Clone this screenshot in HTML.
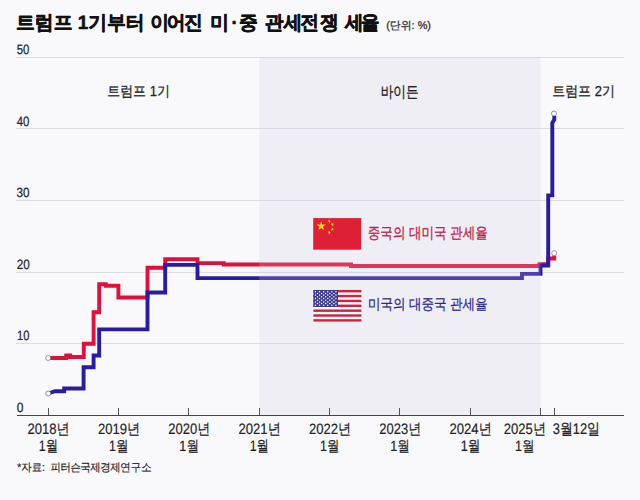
<!DOCTYPE html>
<html><head><meta charset="utf-8"><style>
html,body{margin:0;padding:0;background:#f9f9fc;}
svg{display:block;font-family:"Liberation Sans",sans-serif;text-rendering:geometricPrecision;}
</style></head><body>
<svg width="640" height="500" viewBox="0 0 640 500">
<rect width="640" height="500" fill="#f9f9fc"/>
<line x1="16" x2="624" y1="343.50" y2="343.50" stroke="#dcdce0" stroke-width="1"/>
<line x1="16" x2="624" y1="272.50" y2="272.50" stroke="#dcdce0" stroke-width="1"/>
<line x1="16" x2="624" y1="200.50" y2="200.50" stroke="#dcdce0" stroke-width="1"/>
<line x1="16" x2="624" y1="128.50" y2="128.50" stroke="#dcdce0" stroke-width="1"/>
<line x1="16" x2="624" y1="57.50" y2="57.50" stroke="#dcdce0" stroke-width="1"/>

<path d="M48.2,358.0 H66.2 V355.4 H70.2 V357.0 H83.8 V343.7 H93.6 V312.2 H99.2 V284.2 H105.8 V285.7 H118.4 V297.5 H147.5 V267.8 H165.2 V259.2 H197.5 V263.1 H223.7 V264.5 H351.0 V266.0 H539.5 V264.2 H548.2 V258.5 H554.2 V255.5" fill="none" stroke="#e0103c" stroke-width="3.9" stroke-linejoin="miter"/>
<path d="M48.2,393.5 L55.0,391.2 H64.2 V388.5 H83.6 V367.3 H93.6 V355.5 H99.2 V329.4 H147.5 V292.5 H165.2 V264.9 H197.5 V278.1 H522.0 V273.9 H540.5 V265.6 H548.2 V195.4 H552.3 V123.1 L554.3,119.5 V116" fill="none" stroke="#2a1ca0" stroke-width="3.9" stroke-linejoin="miter"/>
<rect x="259.19" y="57.2" width="281.32" height="358.10" fill="#c8c8da" fill-opacity="0.22"/>
<circle cx="48.2" cy="358.0" r="2.5" fill="#fff" stroke="#666" stroke-width="0.7"/>
<circle cx="48.2" cy="393.5" r="2.5" fill="#fff" stroke="#666" stroke-width="0.7"/>
<circle cx="554.2" cy="253.2" r="2.5" fill="#fff" stroke="#777" stroke-width="0.7"/>
<circle cx="554" cy="113.5" r="2.5" fill="#fff" stroke="#666" stroke-width="0.7"/>
<line x1="17" x2="624" y1="415.5" y2="415.5" stroke="#444" stroke-width="1"/>
<line x1="48.50" x2="48.50" y1="408" y2="415" stroke="#555" stroke-width="1"/>
<line x1="118.50" x2="118.50" y1="408" y2="415" stroke="#555" stroke-width="1"/>
<line x1="188.50" x2="188.50" y1="408" y2="415" stroke="#555" stroke-width="1"/>
<line x1="259.50" x2="259.50" y1="408" y2="415" stroke="#555" stroke-width="1"/>
<line x1="329.50" x2="329.50" y1="408" y2="415" stroke="#555" stroke-width="1"/>
<line x1="399.50" x2="399.50" y1="408" y2="415" stroke="#555" stroke-width="1"/>
<line x1="470.50" x2="470.50" y1="408" y2="415" stroke="#555" stroke-width="1"/>
<line x1="540.50" x2="540.50" y1="408" y2="415" stroke="#555" stroke-width="1"/>
<line x1="554.50" x2="554.50" y1="408" y2="415" stroke="#555" stroke-width="1"/>

<rect x="313.2" y="218.1" width="48" height="31.6" fill="#de1f36"/>
<polygon points="321.20,221.30 322.28,224.62 325.77,224.62 322.94,226.67 324.02,229.98 321.20,227.93 318.38,229.98 319.46,226.67 316.63,224.62 320.12,224.62" fill="#ffde00"/><polygon points="327.57,222.28 328.48,221.24 327.77,220.05 329.04,220.59 329.94,219.55 329.82,220.93 331.09,221.47 329.75,221.78 329.63,223.15 328.92,221.97" fill="#ffde00"/><polygon points="330.52,224.77 331.76,224.16 331.56,222.79 332.52,223.78 333.76,223.18 333.12,224.40 334.08,225.39 332.72,225.15 332.07,226.37 331.88,225.01" fill="#ffde00"/><polygon points="330.57,228.78 331.95,228.73 332.33,227.40 332.81,228.70 334.18,228.65 333.10,229.50 333.57,230.80 332.43,230.03 331.34,230.88 331.72,229.55" fill="#ffde00"/><polygon points="327.72,231.31 329.01,231.80 329.87,230.72 329.81,232.10 331.10,232.59 329.77,232.95 329.70,234.33 328.94,233.18 327.61,233.54 328.47,232.47" fill="#ffde00"/>
<rect x="313.4" y="290" width="48" height="31.6" fill="#fff"/>
<rect x="313.4" y="290.00" width="48" height="2.43" fill="#d0213f"/><rect x="313.4" y="294.86" width="48" height="2.43" fill="#d0213f"/><rect x="313.4" y="299.72" width="48" height="2.43" fill="#d0213f"/><rect x="313.4" y="304.58" width="48" height="2.43" fill="#d0213f"/><rect x="313.4" y="309.45" width="48" height="2.43" fill="#d0213f"/><rect x="313.4" y="314.31" width="48" height="2.43" fill="#d0213f"/><rect x="313.4" y="319.17" width="48" height="2.43" fill="#d0213f"/>
<rect x="313.4" y="290" width="24.6" height="17" fill="#3c3b8e"/>
<circle cx="315.45" cy="291.70" r="0.75" fill="#fff"/><circle cx="319.55" cy="291.70" r="0.75" fill="#fff"/><circle cx="323.65" cy="291.70" r="0.75" fill="#fff"/><circle cx="327.75" cy="291.70" r="0.75" fill="#fff"/><circle cx="331.85" cy="291.70" r="0.75" fill="#fff"/><circle cx="335.95" cy="291.70" r="0.75" fill="#fff"/><circle cx="317.50" cy="293.40" r="0.75" fill="#fff"/><circle cx="321.60" cy="293.40" r="0.75" fill="#fff"/><circle cx="325.70" cy="293.40" r="0.75" fill="#fff"/><circle cx="329.80" cy="293.40" r="0.75" fill="#fff"/><circle cx="333.90" cy="293.40" r="0.75" fill="#fff"/><circle cx="315.45" cy="295.10" r="0.75" fill="#fff"/><circle cx="319.55" cy="295.10" r="0.75" fill="#fff"/><circle cx="323.65" cy="295.10" r="0.75" fill="#fff"/><circle cx="327.75" cy="295.10" r="0.75" fill="#fff"/><circle cx="331.85" cy="295.10" r="0.75" fill="#fff"/><circle cx="335.95" cy="295.10" r="0.75" fill="#fff"/><circle cx="317.50" cy="296.80" r="0.75" fill="#fff"/><circle cx="321.60" cy="296.80" r="0.75" fill="#fff"/><circle cx="325.70" cy="296.80" r="0.75" fill="#fff"/><circle cx="329.80" cy="296.80" r="0.75" fill="#fff"/><circle cx="333.90" cy="296.80" r="0.75" fill="#fff"/><circle cx="315.45" cy="298.50" r="0.75" fill="#fff"/><circle cx="319.55" cy="298.50" r="0.75" fill="#fff"/><circle cx="323.65" cy="298.50" r="0.75" fill="#fff"/><circle cx="327.75" cy="298.50" r="0.75" fill="#fff"/><circle cx="331.85" cy="298.50" r="0.75" fill="#fff"/><circle cx="335.95" cy="298.50" r="0.75" fill="#fff"/><circle cx="317.50" cy="300.20" r="0.75" fill="#fff"/><circle cx="321.60" cy="300.20" r="0.75" fill="#fff"/><circle cx="325.70" cy="300.20" r="0.75" fill="#fff"/><circle cx="329.80" cy="300.20" r="0.75" fill="#fff"/><circle cx="333.90" cy="300.20" r="0.75" fill="#fff"/><circle cx="315.45" cy="301.90" r="0.75" fill="#fff"/><circle cx="319.55" cy="301.90" r="0.75" fill="#fff"/><circle cx="323.65" cy="301.90" r="0.75" fill="#fff"/><circle cx="327.75" cy="301.90" r="0.75" fill="#fff"/><circle cx="331.85" cy="301.90" r="0.75" fill="#fff"/><circle cx="335.95" cy="301.90" r="0.75" fill="#fff"/><circle cx="317.50" cy="303.60" r="0.75" fill="#fff"/><circle cx="321.60" cy="303.60" r="0.75" fill="#fff"/><circle cx="325.70" cy="303.60" r="0.75" fill="#fff"/><circle cx="329.80" cy="303.60" r="0.75" fill="#fff"/><circle cx="333.90" cy="303.60" r="0.75" fill="#fff"/><circle cx="315.45" cy="305.30" r="0.75" fill="#fff"/><circle cx="319.55" cy="305.30" r="0.75" fill="#fff"/><circle cx="323.65" cy="305.30" r="0.75" fill="#fff"/><circle cx="327.75" cy="305.30" r="0.75" fill="#fff"/><circle cx="331.85" cy="305.30" r="0.75" fill="#fff"/><circle cx="335.95" cy="305.30" r="0.75" fill="#fff"/>
<text dx="0 0 0 0 0 0 0 0 0 0.5 -2.5 -1.6 0 2.5 2.5 1.2 0 1.9 0 -2.1 0.8 0 1.0 -3.2" transform="matrix(0.9399 0 0 0.9674 16.07 28.87)" style="font-size:20px;font-weight:bold;fill:#111;stroke:#111;stroke-width:0.6px;stroke-linejoin:round">트럼프 1기부터 이어진 미·중 관세전쟁 세율</text>
<text transform="matrix(0.9898 0 0 1.0091 386.21 29.48)" style="font-size:11px;font-weight:normal;fill:#333;stroke:#333;stroke-width:0.3px;stroke-linejoin:round">(단위: %)</text>
<text transform="matrix(0.9266 0 0 1.0353 107.17 96.47)" style="font-size:14px;font-weight:normal;fill:#222;stroke:#222;stroke-width:0.25px;stroke-linejoin:round">트럼프 1기</text>
<text transform="matrix(0.9039 0 0 1.1157 380.70 96.73)" style="font-size:14px;font-weight:normal;fill:#222;stroke:#222;stroke-width:0.25px;stroke-linejoin:round">바이든</text>
<text transform="matrix(0.9266 0 0 1.0353 552.17 96.47)" style="font-size:14px;font-weight:normal;fill:#222;stroke:#222;stroke-width:0.25px;stroke-linejoin:round">트럼프 2기</text>
<text transform="matrix(0.8375 0 0 1.0182 367.76 237.85)" style="font-size:15px;font-weight:normal;fill:#c41a48;stroke:#c41a48;stroke-width:0.28px;stroke-linejoin:round">중국의 대미국 관세율</text>
<text transform="matrix(0.8348 0 0 0.9879 367.92 309.35)" style="font-size:15px;font-weight:normal;fill:#2c2a90;stroke:#2c2a90;stroke-width:0.28px;stroke-linejoin:round">미국의 대중국 관세율</text>
<text dx="0 0 0 0 0 3 -0.45 -0.45 -0.45 -0.45 -0.45 -0.45 -0.45 0 0" transform="matrix(0.8654 0 0 0.9364 17.20 470.63)" style="font-size:12px;font-weight:normal;fill:#222;stroke:#222;stroke-width:0.2px;stroke-linejoin:round">*자료: 피터슨국제경제연구소</text>
<text transform="matrix(0.9175 0 0 1.1016 552.78 434.07)" style="font-size:14px;font-weight:normal;fill:#222;stroke:#222;stroke-width:0.2px;stroke-linejoin:round">3월12일</text>
<text transform="matrix(0.9456 0 0 1.1313 16.78 54.00)" style="font-size:12px;font-weight:normal;fill:#222;stroke:#222;stroke-width:0.2px;stroke-linejoin:round">50</text>
<text transform="matrix(0.9461 0 0 1.1232 16.69 125.86)" style="font-size:12px;font-weight:normal;fill:#222;stroke:#222;stroke-width:0.2px;stroke-linejoin:round">40</text>
<text transform="matrix(0.9695 0 0 1.1143 16.54 196.95)" style="font-size:12px;font-weight:normal;fill:#222;stroke:#222;stroke-width:0.2px;stroke-linejoin:round">30</text>
<text transform="matrix(0.9785 0 0 1.1250 16.76 268.58)" style="font-size:12px;font-weight:normal;fill:#222;stroke:#222;stroke-width:0.2px;stroke-linejoin:round">20</text>
<text transform="matrix(0.9253 0 0 1.1237 17.08 340.44)" style="font-size:12px;font-weight:normal;fill:#222;stroke:#222;stroke-width:0.2px;stroke-linejoin:round">10</text>
<text transform="matrix(1.0000 0 0 1.1200 16.85 412.32)" style="font-size:12px;font-weight:normal;fill:#222;stroke:#222;stroke-width:0.2px;stroke-linejoin:round">0</text>
<text transform="matrix(0.9346 0 0 1.0835 27.50 433.58)" style="font-size:14px;font-weight:normal;fill:#222;stroke:#222;stroke-width:0.15px;stroke-linejoin:round">2018년</text>
<text transform="matrix(0.8814 0 0 1.0887 38.77 450.56)" style="font-size:14px;font-weight:normal;fill:#222;stroke:#222;stroke-width:0.15px;stroke-linejoin:round">1월</text>
<text transform="matrix(0.9352 0 0 1.0707 97.91 433.94)" style="font-size:14px;font-weight:normal;fill:#222;stroke:#222;stroke-width:0.15px;stroke-linejoin:round">2019년</text>
<text transform="matrix(0.8921 0 0 1.0704 109.09 450.60)" style="font-size:14px;font-weight:normal;fill:#222;stroke:#222;stroke-width:0.15px;stroke-linejoin:round">1월</text>
<text transform="matrix(0.9277 0 0 1.0854 168.29 433.74)" style="font-size:14px;font-weight:normal;fill:#222;stroke:#222;stroke-width:0.15px;stroke-linejoin:round">2020년</text>
<text transform="matrix(0.9007 0 0 1.0635 179.37 450.94)" style="font-size:14px;font-weight:normal;fill:#222;stroke:#222;stroke-width:0.15px;stroke-linejoin:round">1월</text>
<text transform="matrix(0.9384 0 0 1.0809 238.45 433.59)" style="font-size:14px;font-weight:normal;fill:#222;stroke:#222;stroke-width:0.15px;stroke-linejoin:round">2021년</text>
<text transform="matrix(0.8814 0 0 1.0887 249.73 450.56)" style="font-size:14px;font-weight:normal;fill:#222;stroke:#222;stroke-width:0.15px;stroke-linejoin:round">1월</text>
<text transform="matrix(0.9352 0 0 1.0707 308.88 433.94)" style="font-size:14px;font-weight:normal;fill:#222;stroke:#222;stroke-width:0.15px;stroke-linejoin:round">2022년</text>
<text transform="matrix(0.8921 0 0 1.0704 320.05 450.60)" style="font-size:14px;font-weight:normal;fill:#222;stroke:#222;stroke-width:0.15px;stroke-linejoin:round">1월</text>
<text transform="matrix(0.9277 0 0 1.0854 379.26 433.74)" style="font-size:14px;font-weight:normal;fill:#222;stroke:#222;stroke-width:0.15px;stroke-linejoin:round">2023년</text>
<text transform="matrix(0.9007 0 0 1.0635 390.34 450.94)" style="font-size:14px;font-weight:normal;fill:#222;stroke:#222;stroke-width:0.15px;stroke-linejoin:round">1월</text>
<text transform="matrix(0.9384 0 0 1.0809 449.41 433.59)" style="font-size:14px;font-weight:normal;fill:#222;stroke:#222;stroke-width:0.15px;stroke-linejoin:round">2024년</text>
<text transform="matrix(0.9053 0 0 1.0877 460.67 450.57)" style="font-size:14px;font-weight:normal;fill:#222;stroke:#222;stroke-width:0.15px;stroke-linejoin:round">1월</text>
<text transform="matrix(0.9357 0 0 1.0777 503.75 433.59)" style="font-size:14px;font-weight:normal;fill:#222;stroke:#222;stroke-width:0.15px;stroke-linejoin:round">2025년</text>
<text transform="matrix(0.9033 0 0 1.0574 515.00 450.62)" style="font-size:14px;font-weight:normal;fill:#222;stroke:#222;stroke-width:0.15px;stroke-linejoin:round">1월</text>
</svg></body></html>
